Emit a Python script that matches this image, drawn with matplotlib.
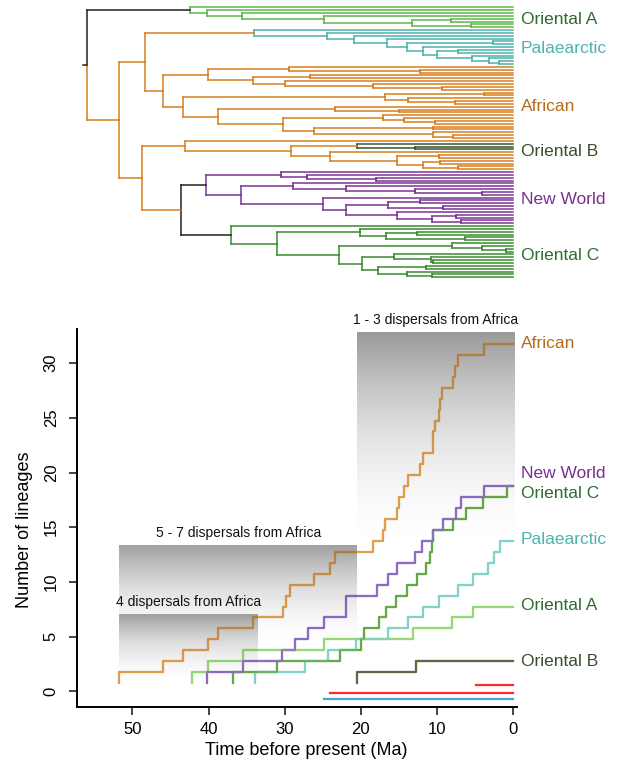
import numpy as np
import matplotlib
matplotlib.use("Agg")
import matplotlib.pyplot as plt

plt.rcParams['font.family'] = ['Liberation Sans', 'DejaVu Sans']

# ---------------- tree (node = (age, child, child), tip = 0) ----------------
# a clade entry is (stem colour, inner colour, subtree)
oriental_a = (42.4, 0, (40.2, 0, (35.6, 0, (24.8, 0, (13.3, (8.2, 0, 0), (5.6, 0, 0))))))
palaearctic = (34.0, 0, (24.4, 0, (20.9, 0, (16.6, 0, (13.9, (2.6, 0, 0),
               (11.9, 0, (10.0, (7.3, 0, 0), (5.4, 0, (3.2, 0, (1.9, 0, 0))))))))))
oriental_b = (20.5, 0, (12.9, 0, 0))
new_world = (40.3, (30.5, 0, (27.1, 0, (18.0, 0, 0))),
             (35.8, (28.9, 0, (22.0, 0, (12.9, 0, (4.1, 0, 0)))),
              (25.0, 0, (22.0, (16.4, (12.2, 0, 0), (9.2, 0, 0)),
                         (15.2, 0, (10.7, (7.5, 0, 0), (6.8, 0, 0)))))))
oriental_c = (37.0, 0, (31.0, (20.1, 0, (16.7, (12.6, 0, 0), (6.4, 0, 0))),
              (22.9, (8.0, 0, (4.1, 0, (0.9, 0, 0))),
               (19.8, (15.6, 0, (10.8, 0, (10.6, 0, 0))),
                (17.7, (11.5, 0, 0), (14.0, 0, (10.7, 0, 0)))))))

tree = (56.0, ('k', 'oa', oriental_a),
        (51.7,
         (48.3, ('af', 'pal', palaearctic),
          (46.0,
           (40.1, (29.4, 0, (12.2, 0, 0)),
            (34.1, (26.7, 0, 0), (30.0, 0, (18.4, 0, (9.3, 0, 0))))),
           (43.4, (16.8, (3.9, 0, 0), (13.8, 0, (7.6, 0, 0))),
            (38.8, (23.4, 0, (15.0, 0, 0)),
             (30.2, (17.1, 0, (14.4, 0, (10.3, 0, 0))),
              (26.2, (10.6, 0, 0), (10.5, 0, (7.9, 0, 0)))))))),
         (48.7,
          (43.1, 0, (29.2, ('af', 'ob', oriental_b),
                     (24.0, 0, (15.3, (9.8, 0, 0), (11.8, (9.6, 0, 0), (7.2, 0, 0)))))),
          ('af', 'k', (43.6, ('k', 'nw', new_world), ('k', 'oc', oriental_c))))))

tree_col = {'k': '#222222', 'oa': '#5cb64a', 'pal': '#4db3ad', 'af': '#d97f1f',
            'ob': '#3a5532', 'nw': '#7a3593', 'oc': '#3a8a32'}

# ---------------- lineages through time ----------------
african_times = [51.7, 46.0, 43.4, 40.1, 38.8, 34.1, 30.2, 29.8, 29.3, 26.2, 24.0, 23.4,
                 18.4, 17.1, 16.8, 15.3, 15.0, 14.4, 13.8, 12.2, 11.8, 10.6, 10.5, 10.3,
                 9.8, 9.6, 9.3, 7.9, 7.6, 7.2, 3.9]
african_counts = list(range(2, 33))
new_world_times = [40.2, 35.5, 30.4, 28.7, 27.0, 24.8, 21.9, 17.9, 16.4, 15.2, 12.9, 12.0,
                   10.6, 9.2, 7.5, 6.8, 3.9]
new_world_counts = [2, 3, 4, 5, 6, 7, 9, 10, 11, 12, 13, 14, 15, 16, 17, 18, 19]
oriental_c_times = [36.8, 31.0, 22.7, 20.0, 19.6, 17.6, 16.7, 15.4, 14.0, 12.6, 11.5, 10.9,
                    10.7, 10.6, 7.9, 6.25, 4.0, 0.8]
oriental_c_counts = list(range(2, 20))
palaearctic_times = [33.9, 27.4, 24.3, 20.6, 16.5, 13.8, 11.9, 9.8, 7.2, 5.3, 3.3, 2.5, 1.8]
palaearctic_counts = list(range(2, 15))
oriental_a_times = [42.2, 40.1, 35.5, 24.8, 13.2, 8.1, 5.3]
oriental_a_counts = list(range(2, 9))
oriental_b_times = [20.5, 12.8]
oriental_b_counts = [2, 3]

bar_starts = [4.9, 24.1, 24.8]
bar_levels = [0.55, -0.13, -0.73]
bar_colors = ['#ff2a2a', '#ff2a2a', '#4aa3c2']

box_texts = ['1 - 3 dispersals from Africa', '5 - 7 dispersals from Africa', '4 dispersals from Africa']
box_left = [20.5, 51.7, 51.7]
box_right = [-0.2, 20.5, 33.5]
box_top = [32.8, 13.3, 7.0]
box_bottom = [12.0, 3.6, 0.1]
box_alpha = [0.40, 0.38, 0.35]

clade_names = ['Oriental A', 'Palaearctic', 'African', 'Oriental B', 'New World', 'Oriental C']
clade_text_col = ['#2f6b2f', '#4fb3b0', '#b06d1e', '#3a4f2e', '#7b2f8f', '#2e6e2e']

W, H = 622, 763
fig = plt.figure(figsize=(W / 100, H / 100), dpi=100)


def frac(x0, y0, x1, y1):
    return [x0 / W, 1 - y1 / H, (x1 - x0) / W, (y1 - y0) / H]


# ---------------------- tree panel ----------------------
ax_tree = fig.add_axes(frac(76.7, 0, 516.7, 285))
tip_no = [0]


def draw_node(node, parent_age, stem, inner):
    if isinstance(node, tuple) and isinstance(node[0], str):
        stem, inner, node = node
    if not isinstance(node, tuple):
        y = tip_no[0]
        tip_no[0] += 1
        ax_tree.plot([parent_age, 0], [y, y], color=tree_col[stem], lw=1.1,
                     solid_capstyle='projecting')
        return y, stem
    age = node[0]
    res = [draw_node(k, age, inner, inner) for k in node[1:]]
    y = (res[0][0] + res[-1][0]) / 2
    for yk, ck in res:
        ax_tree.plot([age, age], [y, yk], color=tree_col[ck], lw=1.1,
                     solid_capstyle='projecting')
    ax_tree.plot([parent_age, age], [y, y], color=tree_col[stem], lw=1.1,
                 solid_capstyle='projecting')
    return y, stem


draw_node(tree, 56.5, 'k', 'af')
ax_tree.set_xlim(57.3, -0.45)
ax_tree.set_ylim(97.75, -2.57)
ax_tree.axis('off')

tree_label_y = [20, 48.3, 106.7, 151.7, 200, 255]
for name, c, yy in zip(clade_names, clade_text_col, tree_label_y):
    fig.text(521 / W, 1 - yy / H, name, color=c, fontsize=12.5, va='center', ha='left')

# ---------------------- LTT panel ----------------------
ax = fig.add_axes(frac(76.7, 329, 516.7, 707))
shift = 0.25


def ltt_line(times, counts, color):
    x = [times[0]] + list(times) + [0]
    y = np.array([1] + list(counts) + [counts[-1]]) - shift
    # full line under the shading, faint copy on top so it stays visible
    ax.step(x, y, where='post', color=color, lw=1.6, zorder=2)
    ax.step(x, y, where='post', color=color, lw=1.6, alpha=0.35, zorder=4)


ltt_line(african_times, african_counts, '#e2a04e')
ltt_line(oriental_a_times, oriental_a_counts, '#96d872')
ltt_line(palaearctic_times, palaearctic_counts, '#82d2ca')
ltt_line(oriental_c_times, oriental_c_counts, '#66a846')
ltt_line(new_world_times, new_world_counts, '#8c6cc6')
ltt_line(oriental_b_times, oriental_b_counts, '#5d6a45')

for s, lv, c in zip(bar_starts, bar_levels, bar_colors):
    ax.plot([s, 0], [lv, lv], color=c, lw=1.6, zorder=2)

# gradient boxes
for txt, l, r, t, b, a0 in zip(box_texts, box_left, box_right, box_top, box_bottom, box_alpha):
    f = np.linspace(0, 1, 300)
    rgba = np.zeros((300, 2, 4))
    rgba[:, :, 3] = (a0 * (1 - f) ** 2)[:, None]
    ax.imshow(rgba, extent=(l, r, b, t), origin='upper', aspect='auto',
              interpolation='bilinear', zorder=3)
    ax.text((l + r) / 2, t + 1.15, txt, ha='center', va='center', fontsize=10,
            color='#111111', zorder=5)

ax.set_xlim(57.3, -0.45)
ax.set_ylim(-1.435, 33.12)
ax.spines['top'].set_visible(False)
ax.spines['right'].set_visible(False)
ax.spines['left'].set_linewidth(1.4)
ax.spines['bottom'].set_linewidth(1.4)
ax.set_xticks([50, 40, 30, 20, 10, 0])
ax.set_yticks([0, 5, 10, 15, 20, 25, 30])
ax.tick_params(axis='both', length=6, width=1.2, labelsize=12, color='#222222')
ax.tick_params(axis='x', pad=5)
ax.tick_params(axis='y', pad=7, labelrotation=90)
for lab in ax.get_yticklabels():
    lab.set_va('center')

fig.text(306 / W, 1 - 750.7 / H, 'Time before present (Ma)', ha='center', va='center', fontsize=13)
fig.text(25 / W, 1 - 530 / H, 'Number of lineages', ha='center', va='center',
         rotation=90, fontsize=13)

ltt_label_y = [605, 540, 343.3, 661, 473.3, 493.3]
for name, c, yy in zip(clade_names, clade_text_col, ltt_label_y):
    fig.text(521 / W, 1 - yy / H, name, color=c, fontsize=12.5, va='center', ha='left')

fig.savefig('out.png', dpi=100)
